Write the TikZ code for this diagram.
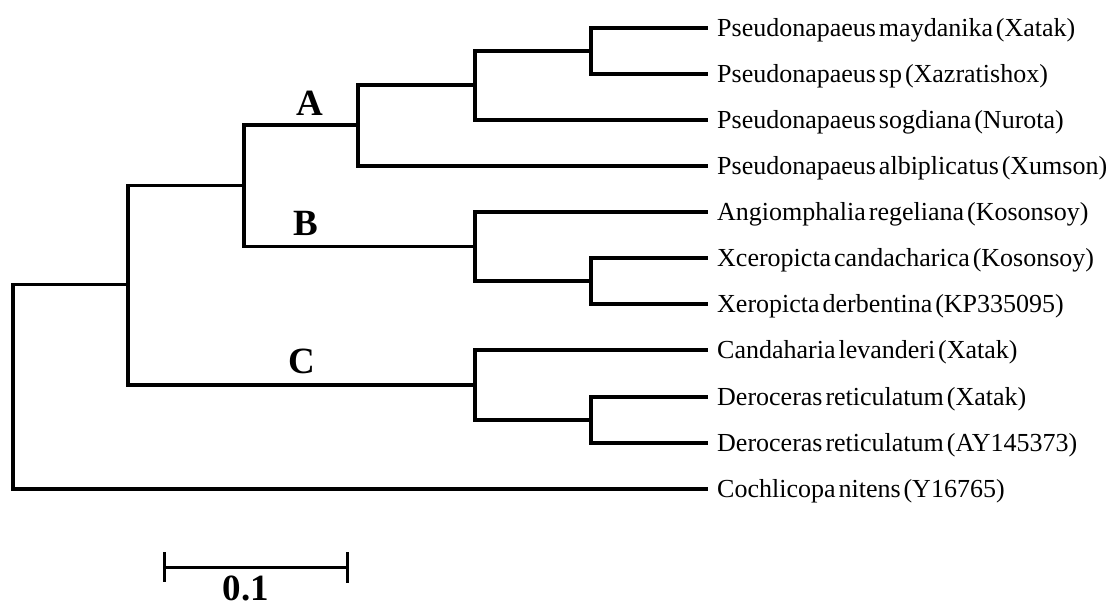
\documentclass[tikz,border=0pt]{standalone}
\usepackage{fontspec}
\setmainfont{Liberation Serif}[WordSpace=0.45]
\begin{document}
\begin{tikzpicture}[x=1pt,y=-1pt,
  br/.style={line width=3.4pt,line join=miter},
  leaf/.style={anchor=west,inner xsep=9pt,inner ysep=0pt,text height=18pt,text depth=2pt,
    font=\fontsize{26}{30}\selectfont},
  clade/.style={font=\fontsize{37}{40}\selectfont\bfseries,anchor=base,inner sep=0pt},
  sbar/.style={line width=3pt}]
\useasboundingbox (0,0) rectangle (1113,606);
% internal nodes
\coordinate (r) at (13,386.5);
\coordinate (n2) at (128,284.5);
\coordinate (nAB) at (244,185.5);
\coordinate (nA) at (358,125);
\coordinate (n3) at (475,85);
\coordinate (n4) at (591,51);
\coordinate (nB) at (475,246.5);
\coordinate (n5) at (591,281);
\coordinate (nC) at (475,385);
\coordinate (n6) at (591,420);
% leaves
\node[leaf] (l1) at (708,28) {Pseudonapaeus maydanika (Xatak)};
\node[leaf] (l2) at (708,74) {Pseudonapaeus sp (Xazratishox)};
\node[leaf] (l3) at (708,120) {Pseudonapaeus sogdiana (Nurota)};
\node[leaf] (l4) at (708,166) {Pseudonapaeus albiplicatus (Xumson)};
\node[leaf] (l5) at (708,212) {Angiomphalia regeliana (Kosonsoy)};
\node[leaf] (l6) at (708,258) {Xceropicta candacharica (Kosonsoy)};
\node[leaf] (l7) at (708,304) {Xeropicta derbentina (KP335095)};
\node[leaf] (l8) at (708,350) {Candaharia levanderi (Xatak)};
\node[leaf] (l9) at (708,397) {Deroceras reticulatum (Xatak)};
\node[leaf] (l10) at (708,443) {Deroceras reticulatum (AY145373)};
\node[leaf] (l11) at (708,489) {Cochlicopa nitens (Y16765)};
% branches
\draw[br] (r) |- (n2);
\draw[br] (r) |- (l11.west);
\draw[br] (n2) |- (nAB);
\draw[br] (n2) |- (nC);
\draw[br] (nAB) |- (nA);
\draw[br] (nAB) |- (nB);
\draw[br] (nA) |- (n3);
\draw[br] (nA) |- (l4.west);
\draw[br] (n3) |- (n4);
\draw[br] (n3) |- (l3.west);
\draw[br] (n4) |- (l1.west);
\draw[br] (n4) |- (l2.west);
\draw[br] (nB) |- (l5.west);
\draw[br] (nB) |- (n5);
\draw[br] (n5) |- (l6.west);
\draw[br] (n5) |- (l7.west);
\draw[br] (nC) |- (l8.west);
\draw[br] (nC) |- (n6);
\draw[br] (n6) |- (l9.west);
\draw[br] (n6) |- (l10.west);
% clade labels
\node[clade] (A) at (310,115) {A};
\node[clade] (B) at (306,235) {B};
\node[clade] (C) at (302,373) {C};
% scale bar
\coordinate (s1) at (164,567);
\coordinate (s2) at (347,567);
\coordinate (s1t) at (164,552);
\coordinate (s1b) at (164,582);
\coordinate (s2t) at (347,552);
\coordinate (s2b) at (347,583);
\draw[sbar] (s1) -- (s2);
\draw[sbar] (s1t) -- (s1b);
\draw[sbar] (s2t) -- (s2b);
\node[clade] (sl) at (246,600) {0.1};
\end{tikzpicture}
\end{document}
